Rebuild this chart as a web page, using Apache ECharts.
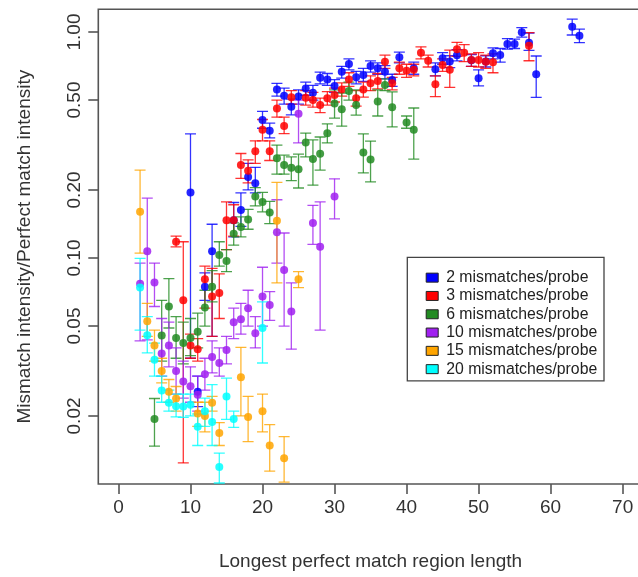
<!DOCTYPE html>
<html>
<head>
<meta charset="utf-8">
<script src="https://cdn.jsdelivr.net/npm/echarts@6/dist/echarts.min.js"></script>
<style>
  html, body { margin: 0; padding: 0; background: #fff; }
  #chart { width: 638px; height: 577px; }
</style>
</head>
<body>
<div id="chart"></div>
<script>
// Each row: [longest perfect match length, mean ratio, lower bound, upper bound]
const mm2 = [
  [10, 0.195, 0.036, 0.354], [11, 0.0256, 0.022, 0.030], [12, 0.0746, 0.065, 0.086],
  [13, 0.107, 0.045, 0.141], [16, 0.147, 0.124, 0.176], [17, 0.163, 0.138, 0.194],
  [18, 0.228, 0.200, 0.262], [19, 0.214, 0.194, 0.252], [20, 0.408, 0.375, 0.445],
  [21, 0.366, 0.340, 0.395], [22, 0.557, 0.520, 0.593], [23, 0.522, 0.480, 0.565],
  [24, 0.467, 0.430, 0.505], [25, 0.518, 0.480, 0.555], [26, 0.563, 0.525, 0.600],
  [27, 0.539, 0.500, 0.580], [28, 0.628, 0.590, 0.665], [29, 0.617, 0.580, 0.655],
  [30, 0.577, 0.540, 0.615], [31, 0.667, 0.625, 0.705], [32, 0.722, 0.680, 0.760],
  [33, 0.630, 0.590, 0.670], [34, 0.645, 0.605, 0.690], [35, 0.707, 0.665, 0.745],
  [36, 0.691, 0.650, 0.730], [37, 0.667, 0.620, 0.710], [38, 0.613, 0.575, 0.650],
  [39, 0.773, 0.730, 0.815], [41, 0.691, 0.650, 0.735], [44, 0.685, 0.640, 0.730],
  [45, 0.765, 0.720, 0.810], [46, 0.740, 0.695, 0.785], [47, 0.790, 0.745, 0.835],
  [49, 0.750, 0.705, 0.795], [50, 0.624, 0.577, 0.680], [51, 0.740, 0.700, 0.785],
  [52, 0.805, 0.760, 0.850], [53, 0.791, 0.735, 0.845], [54, 0.885, 0.840, 0.935],
  [55, 0.885, 0.845, 0.930], [56, 0.997, 0.950, 1.045], [57, 0.897, 0.830, 0.990],
  [58, 0.650, 0.514, 0.783], [63, 1.055, 0.970, 1.140], [64, 0.963, 0.897, 1.030]
];
const mm3 = [
  [8, 0.118, 0.112, 0.125], [9, 0.065, 0.0124, 0.118], [10, 0.041, 0.036, 0.046],
  [11, 0.0395, 0.035, 0.044], [12, 0.0806, 0.060, 0.092], [13, 0.0675, 0.045, 0.090],
  [14, 0.070, 0.054, 0.085], [15, 0.147, 0.109, 0.177], [16, 0.147, 0.125, 0.172],
  [17, 0.258, 0.225, 0.290], [18, 0.243, 0.215, 0.272], [19, 0.297, 0.262, 0.330],
  [20, 0.369, 0.330, 0.410], [21, 0.297, 0.270, 0.330], [22, 0.459, 0.420, 0.500],
  [23, 0.384, 0.355, 0.420], [24, 0.514, 0.480, 0.550], [26, 0.512, 0.475, 0.550],
  [27, 0.500, 0.465, 0.540], [28, 0.475, 0.440, 0.510], [29, 0.509, 0.475, 0.545],
  [30, 0.526, 0.490, 0.565], [31, 0.557, 0.520, 0.595], [32, 0.617, 0.575, 0.660],
  [33, 0.509, 0.470, 0.550], [34, 0.557, 0.515, 0.600], [35, 0.593, 0.550, 0.640],
  [36, 0.607, 0.560, 0.655], [37, 0.739, 0.690, 0.790], [38, 0.593, 0.555, 0.630],
  [39, 0.691, 0.650, 0.735], [40, 0.674, 0.630, 0.720], [41, 0.680, 0.640, 0.720],
  [42, 0.810, 0.760, 0.860], [43, 0.746, 0.700, 0.790], [44, 0.587, 0.518, 0.640],
  [45, 0.715, 0.670, 0.760], [46, 0.680, 0.569, 0.832], [47, 0.838, 0.780, 0.900],
  [48, 0.810, 0.740, 0.880], [49, 0.752, 0.705, 0.800], [50, 0.752, 0.700, 0.810],
  [51, 0.739, 0.690, 0.790], [52, 0.734, 0.660, 0.800], [57, 0.870, 0.746, 0.993]
];
const mm6 = [
  [5, 0.0194, 0.0147, 0.0239], [6, 0.0454, 0.035, 0.065], [7, 0.061, 0.049, 0.081],
  [8, 0.0443, 0.036, 0.055], [9, 0.0421, 0.034, 0.052], [10, 0.0443, 0.037, 0.054],
  [11, 0.0472, 0.040, 0.057], [12, 0.0604, 0.050, 0.072], [13, 0.0746, 0.064, 0.088],
  [14, 0.103, 0.092, 0.118], [15, 0.097, 0.087, 0.109], [16, 0.128, 0.114, 0.143],
  [17, 0.137, 0.124, 0.152], [18, 0.148, 0.134, 0.164], [19, 0.187, 0.170, 0.205],
  [20, 0.177, 0.160, 0.195], [21, 0.159, 0.142, 0.178], [22, 0.276, 0.235, 0.316],
  [23, 0.258, 0.235, 0.285], [24, 0.251, 0.220, 0.280], [25, 0.247, 0.204, 0.288],
  [26, 0.324, 0.280, 0.357], [27, 0.274, 0.210, 0.333], [28, 0.289, 0.245, 0.343],
  [29, 0.356, 0.323, 0.392], [30, 0.483, 0.416, 0.554], [31, 0.455, 0.383, 0.537],
  [32, 0.548, 0.500, 0.600], [33, 0.475, 0.429, 0.554], [34, 0.293, 0.238, 0.354],
  [35, 0.273, 0.217, 0.329], [36, 0.492, 0.425, 0.554], [37, 0.582, 0.550, 0.620],
  [38, 0.464, 0.380, 0.543], [40, 0.398, 0.375, 0.425], [41, 0.369, 0.274, 0.461]
];
const mm10 = [
  [3, 0.077, 0.043, 0.095], [4, 0.107, 0.0434, 0.184], [5, 0.078, 0.061, 0.095],
  [6, 0.0378, 0.030, 0.054], [7, 0.041, 0.033, 0.052], [8, 0.0316, 0.025, 0.040],
  [9, 0.0284, 0.024, 0.035], [10, 0.0271, 0.023, 0.033], [11, 0.0248, 0.021, 0.030],
  [12, 0.0306, 0.026, 0.036], [13, 0.0365, 0.031, 0.043], [14, 0.0343, 0.030, 0.040],
  [15, 0.0392, 0.034, 0.045], [16, 0.052, 0.044, 0.060], [17, 0.0536, 0.046, 0.063],
  [18, 0.060, 0.050, 0.072], [19, 0.0464, 0.040, 0.055], [20, 0.0675, 0.050, 0.091],
  [21, 0.062, 0.053, 0.071], [22, 0.130, 0.095, 0.181], [23, 0.0885, 0.050, 0.129],
  [24, 0.058, 0.0395, 0.0776], [25, 0.435, 0.323, 0.500], [27, 0.143, 0.115, 0.171],
  [28, 0.112, 0.048, 0.177], [30, 0.187, 0.149, 0.224]
];
const mm15 = [
  [3, 0.160, 0.105, 0.245], [4, 0.0525, 0.045, 0.063], [5, 0.041, 0.035, 0.048],
  [6, 0.0316, 0.028, 0.036], [7, 0.0256, 0.023, 0.029], [8, 0.0239, 0.021, 0.027],
  [11, 0.0205, 0.018, 0.023], [12, 0.020, 0.017, 0.023], [13, 0.0229, 0.021, 0.0244],
  [14, 0.0168, 0.0148, 0.0187], [17, 0.0297, 0.020, 0.0402], [18, 0.0198, 0.0154, 0.0244],
  [20, 0.021, 0.017, 0.025], [21, 0.0148, 0.0114, 0.0183], [22, 0.146, 0.0776, 0.216],
  [23, 0.013, 0.0102, 0.0162], [25, 0.0805, 0.0739, 0.087]
];
const mm20 = [
  [3, 0.074, 0.048, 0.0996], [4, 0.0455, 0.038, 0.055], [5, 0.0355, 0.030, 0.042],
  [6, 0.0259, 0.023, 0.030], [7, 0.0229, 0.021, 0.026], [8, 0.0221, 0.0198, 0.025],
  [9, 0.022, 0.0197, 0.025], [10, 0.0224, 0.020, 0.025], [11, 0.0179, 0.0148, 0.0204],
  [12, 0.021, 0.018, 0.024], [13, 0.0188, 0.0148, 0.0275], [14, 0.0119, 0.0101, 0.0137],
  [15, 0.0244, 0.0193, 0.0294], [16, 0.0194, 0.0178, 0.021], [20, 0.049, 0.0343, 0.064]
];

const groupNames = ['2 mismatches/probe', '3 mismatches/probe', '6 mismatches/probe',
                    '10 mismatches/probe', '15 mismatches/probe', '20 mismatches/probe'];
const groupColors = ['#0000FF', '#FF0000', '#228B22', '#A020F0', '#FFA500', '#00FFFF'];
const groupRows = [mm2, mm3, mm6, mm10, mm15, mm20];

const xTicks = [0, 10, 20, 30, 40, 50, 60, 70];
const yTicks = [0.02, 0.05, 0.10, 0.20, 0.50, 1.00];

const FONT = 'Liberation Sans, Arial, Helvetica, sans-serif';
const lg = Math.log10;

const series = [];
groupRows.forEach((rows, i) => {
  const color = groupColors[i];
  // error bars with end caps
  series.push({
    name: groupNames[i],
    type: 'custom',
    clip: true,
    itemStyle: { color: color },
    data: rows.map(r => [r[0], lg(r[1]), lg(r[2]), lg(r[3])]),
    encode: { x: 0, y: [2, 3] },
    renderItem: function (params, api) {
      const x = api.value(0);
      const pLo = api.coord([x, api.value(2)]);
      const pHi = api.coord([x, api.value(3)]);
      const cw = 5.5;
      const st = { stroke: color, lineWidth: 1.3, opacity: 0.8 };
      return {
        type: 'group',
        children: [
          { type: 'line', shape: { x1: pLo[0], y1: pLo[1], x2: pHi[0], y2: pHi[1] }, style: st },
          { type: 'line', shape: { x1: pHi[0] - cw, y1: pHi[1], x2: pHi[0] + cw, y2: pHi[1] }, style: st },
          { type: 'line', shape: { x1: pLo[0] - cw, y1: pLo[1], x2: pLo[0] + cw, y2: pLo[1] }, style: st }
        ]
      };
    }
  });
  // mean points
  series.push({
    name: groupNames[i],
    type: 'scatter',
    symbol: 'circle',
    symbolSize: 8,
    itemStyle: { color: color, opacity: 0.85 },
    emphasis: { disabled: true },
    data: rows.map(r => [r[0], lg(r[1])])
  });
});

const chart = echarts.init(document.getElementById('chart'), null, { renderer: 'canvas' });
chart.setOption({
  animation: false,
  backgroundColor: '#ffffff',
  textStyle: { fontFamily: FONT },
  grid: {
    left: 98.3, top: 9.3, width: 544.5, height: 474.7,
    outerBoundsMode: 'none',
    containLabel: false,
    show: true, borderColor: '#555', borderWidth: 1.6, backgroundColor: 'transparent'
  },
  xAxis: {
    type: 'value',
    min: -2.8, max: 72.8,
    name: 'Longest perfect match region length',
    nameLocation: 'middle',
    nameGap: 68.5,
    nameTextStyle: { fontSize: 19, color: '#333', fontFamily: FONT },
    axisLine: { show: false, onZero: false },
    axisTick: { show: true, inside: false, length: 10, customValues: xTicks, lineStyle: { color: '#555', width: 1.6 } },
    axisLabel: { customValues: xTicks, fontSize: 19, color: '#333', margin: 14, fontFamily: FONT },
    splitLine: { show: false }
  },
  yAxis: {
    type: 'value',
    min: -2.0, max: 0.1004,
    name: 'Mismatch intensity/Perfect match intensity',
    nameLocation: 'middle',
    nameRotate: 90,
    nameGap: 64,
    nameTextStyle: { fontSize: 19, color: '#333', fontFamily: FONT },
    axisLine: { show: false, onZero: false },
    axisTick: { show: true, inside: false, length: 10, customValues: yTicks.map(lg), lineStyle: { color: '#555', width: 1.6 } },
    axisLabel: {
      customValues: yTicks.map(lg),
      rotate: 90, fontSize: 19, color: '#333', margin: 14.5, fontFamily: FONT,
      formatter: v => Math.pow(10, v).toFixed(2)
    },
    splitLine: { show: false }
  },
  graphic: [{
    type: 'rect', z: 3,
    shape: { x: 407.3, y: 257.3, width: 196.7, height: 123.5 },
    style: { fill: '#ffffff', stroke: '#444', lineWidth: 1.3 }
  }],
  legend: {
    orient: 'vertical',
    left: 420.7, top: 263.5,
    z: 5,
    itemWidth: 12, itemHeight: 9, itemGap: 0,
    icon: 'rect',
    selectedMode: false,
    data: groupNames,
    itemStyle: { borderColor: '#222', borderWidth: 1, opacity: 1 },
    textStyle: { fontSize: 15.8, color: '#222', lineHeight: 18.3, padding: [0, 0, 0, 3], fontFamily: FONT }
  },
  series: series
});
</script>
</body>
</html>
